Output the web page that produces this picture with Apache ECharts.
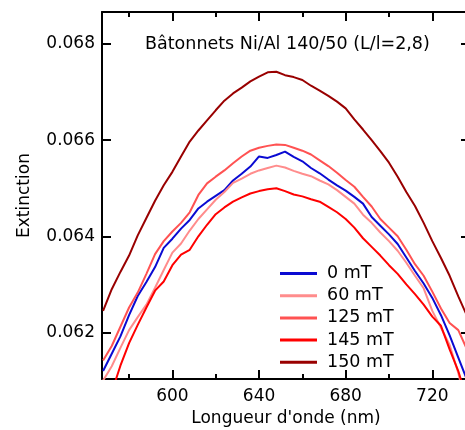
<!DOCTYPE html>
<html>
<head>
<meta charset="utf-8">
<script src="https://cdn.jsdelivr.net/npm/echarts@6/dist/echarts.min.js"></script>
<style>
html,body{margin:0;padding:0;background:#fff;overflow:hidden;}
#chart{width:465px;height:430px;}
</style>
</head>
<body>
<div id="chart"></div>
<script>
// Wavelength grid (nm)
const wavelengths = [568,572,576,580,584,588,592,596,600,604,608,612,616,620,624,628,632,636,640,644,648,652,656,660,664,668,672,676,680,684,688,692,696,700,704,708,712,716,720,724,728,732,736];

const ext0mT = [0.06120,0.06156,0.06192,0.06236,0.06276,0.06305,0.06336,0.06376,0.06395,0.06416,0.06434,0.06458,0.06472,0.06484,0.06496,0.06516,0.06530,0.06545,0.06566,0.06563,0.06569,0.06576,0.06565,0.06556,0.06542,0.06531,0.06518,0.06506,0.06495,0.06482,0.06468,0.06440,0.06422,0.06404,0.06384,0.06356,0.06328,0.06302,0.06272,0.06236,0.06194,0.06148,0.06102];
const ext60mT = [0.06100,0.06130,0.06168,0.06205,0.06232,0.06258,0.06293,0.06330,0.06366,0.06385,0.06412,0.06436,0.06456,0.06476,0.06492,0.06511,0.06520,0.06530,0.06537,0.06542,0.06547,0.06543,0.06536,0.06530,0.06525,0.06516,0.06508,0.06496,0.06482,0.06468,0.06445,0.06428,0.06408,0.06390,0.06370,0.06345,0.06318,0.06292,0.06245,0.06210,0.06174,0.06116,0.06040];
const ext125mT = [0.06142,0.06172,0.06212,0.06252,0.06283,0.06322,0.06363,0.06390,0.06410,0.06428,0.06450,0.06486,0.06510,0.06524,0.06537,0.06552,0.06566,0.06578,0.06584,0.06588,0.06591,0.06590,0.06584,0.06578,0.06570,0.06558,0.06546,0.06532,0.06517,0.06503,0.06482,0.06462,0.06436,0.06418,0.06400,0.06372,0.06342,0.06318,0.06285,0.06250,0.06220,0.06205,0.06165];
const ext145mT = [null,0.06076,0.06131,0.06178,0.06216,0.06252,0.06287,0.06306,0.06340,0.06362,0.06372,0.06400,0.06424,0.06446,0.06460,0.06472,0.06481,0.06489,0.06494,0.06498,0.06500,0.06494,0.06487,0.06483,0.06477,0.06472,0.06461,0.06450,0.06436,0.06418,0.06396,0.06378,0.06360,0.06340,0.06322,0.06300,0.06280,0.06258,0.06233,0.06214,0.06165,0.06120,0.06060];
const ext150mT = [0.06245,0.06290,0.06326,0.06360,0.06402,0.06438,0.06474,0.06506,0.06534,0.06566,0.06597,0.06620,0.06641,0.06662,0.06682,0.06697,0.06709,0.06722,0.06732,0.06741,0.06742,0.06735,0.06731,0.06725,0.06713,0.06703,0.06692,0.06680,0.06666,0.06643,0.06622,0.06600,0.06577,0.06553,0.06524,0.06492,0.06463,0.06428,0.06390,0.06355,0.06318,0.06275,0.06235];

const seriesNames = ['0 mT','60 mT','125 mT','145 mT','150 mT'];
const seriesColors = ['#0a0ad2','#ff8c8c','#ff5252','#ff0000','#990000'];
const xMajorTicks = [600,640,680,720];
const xMinorTicks = [580,620,660,700];
const yMajorTicks = [0.062,0.064,0.066,0.068];

const titleText = 'Bâtonnets Ni/Al 140/50 (L/l=2,8)';
const xName = "Longueur d'onde (nm)";
const yName = 'Extinction';

const X_MIN = 567.5, X_MAX = 737.4, Y_MIN = 0.061034, Y_MAX = 0.068663;
const FONT = 'DejaVu Sans';

const seriesValues = [ext0mT, ext60mT, ext125mT, ext145mT, ext150mT];

const chart = echarts.init(document.getElementById('chart'), null, {renderer: 'canvas'});

function xAx(pos, ticks, len, showLine, showLabel, name) {
  return {
    type: 'value', position: pos, min: X_MIN, max: X_MAX,
    name: name || '', nameLocation: 'middle', nameGap: 30,
    nameTextStyle: {fontFamily: FONT, fontSize: 17, color: '#000'},
    axisLine: {show: showLine, onZero: false, lineStyle: {color: '#000', width: 2}},
    axisTick: {show: true, inside: true, length: len, customValues: ticks, lineStyle: {color: '#000', width: 2}},
    axisLabel: {show: showLabel, customValues: ticks, margin: 9, fontFamily: FONT, fontSize: 17, color: '#000'},
    splitLine: {show: false}
  };
}
function yAx(pos, ticks, len, showLabel, name) {
  return {
    type: 'value', position: pos, min: Y_MIN, max: Y_MAX,
    name: name || '', nameLocation: 'middle', nameGap: 69, nameRotate: 90,
    nameTextStyle: {fontFamily: FONT, fontSize: 17, color: '#000'},
    axisLine: {show: true, onZero: false, lineStyle: {color: '#000', width: 2}},
    axisTick: {show: true, inside: true, length: len, customValues: ticks, lineStyle: {color: '#000', width: 2}},
    axisLabel: {show: showLabel, customValues: ticks, margin: 7, fontFamily: FONT, fontSize: 17, color: '#000',
      formatter: v => v.toFixed(3)},
    splitLine: {show: false}
  };
}

const option = {
  animation: false,
  backgroundColor: '#fff',
  title: {
    text: titleText, left: 140, top: 30,
    textStyle: {fontFamily: FONT, fontSize: 17.5, fontWeight: 'normal', color: '#000'}
  },
  grid: {left: 102, top: 12, width: 368, height: 367, containLabel: false, outerBoundsMode: 'none'},
  legend: {
    orient: 'vertical', left: 275, top: 259.5,
    itemWidth: 37, itemHeight: 3, itemGap: 4.2, icon: 'rect',
    textStyle: {fontFamily: FONT, fontSize: 17.5, color: '#000', lineHeight: 17, padding: [0,0,0,5]},
    data: seriesNames
  },
  xAxis: [
    xAx('bottom', xMajorTicks, 9, true, true, xName),
    xAx('bottom', xMinorTicks, 5, false, false),
    xAx('top', xMajorTicks, 9, true, false),
    xAx('top', xMinorTicks, 5, false, false)
  ],
  yAxis: [
    yAx('left', yMajorTicks, 9, true, yName),
    yAx('right', yMajorTicks, 9, false)
  ],
  series: seriesNames.map((name, k) => ({
    name: name, type: 'line', xAxisIndex: 0, yAxisIndex: 0,
    showSymbol: false, symbol: 'none', clip: true,
    lineStyle: {color: seriesColors[k], width: 2},
    itemStyle: {color: seriesColors[k]},
    data: wavelengths.map((w, i) => [w, seriesValues[k][i]])
  }))
};
chart.setOption(option);
</script>
</body>
</html>
